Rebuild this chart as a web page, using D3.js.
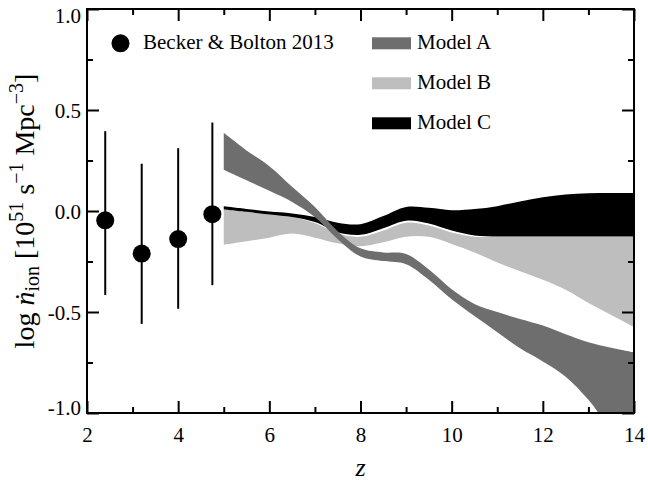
<!DOCTYPE html>
<html>
<head>
<meta charset="utf-8">
<script src="https://cdn.jsdelivr.net/npm/d3@7"></script>
<style>
  body { margin: 0; background: #fff; }
  svg text { font-family: "Liberation Serif", "Times New Roman", serif; fill: #000; }
</style>
</head>
<body>
<svg id="chart" width="648" height="483"></svg>
<script>
// redshift grid of the model bands
var zGrid = [5, 5.5, 6, 6.5, 7, 7.5, 8, 8.5, 9, 9.5, 10, 10.5, 11, 11.5, 12, 12.5, 13, 13.5, 14];

var modelAHigh = [0.387, 0.30, 0.222, 0.12, 0.02, -0.10, -0.185, -0.205, -0.213, -0.29, -0.387, -0.46, -0.50, -0.535, -0.567, -0.61, -0.65, -0.677, -0.70];
var modelALow  = [0.204, 0.152, 0.10, 0.045, -0.03, -0.14, -0.225, -0.248, -0.263, -0.34, -0.437, -0.52, -0.60, -0.68, -0.745, -0.82, -0.935, -1.09, -1.25];

var modelBHigh = [0.008, -0.004, -0.017, -0.03, -0.06, -0.112, -0.128, -0.097, -0.058, -0.072, -0.106, -0.127, -0.127, -0.127, -0.127, -0.127, -0.127, -0.127, -0.127];
var modelBLow  = [-0.167, -0.15, -0.132, -0.112, -0.132, -0.16, -0.175, -0.155, -0.127, -0.128, -0.163, -0.205, -0.255, -0.298, -0.34, -0.39, -0.455, -0.515, -0.575];

var modelCHigh = [0.023, 0.01, -0.003, -0.012, -0.03, -0.058, -0.065, -0.025, 0.02, 0.016, 0.004, 0.01, 0.024, 0.047, 0.068, 0.082, 0.088, 0.089, 0.089];
var modelCLow  = [0.008, -0.004, -0.017, -0.03, -0.055, -0.105, -0.118, -0.085, -0.048, -0.062, -0.097, -0.121, -0.126, -0.126, -0.126, -0.126, -0.126, -0.126, -0.126];

// Becker & Bolton 2013
var bbZ   = [2.4, 3.2, 4.0, 4.75];
var bbVal = [-0.046, -0.211, -0.139, -0.016];
var bbHi  = [0.395, 0.234, 0.311, 0.438];
var bbLo  = [-0.416, -0.559, -0.484, -0.367];

var xMajor = [2, 4, 6, 8, 10, 12, 14];
var xMinor = [3, 5, 7, 9, 11, 13];
var yMajor = [-1.0, -0.5, 0.0, 0.5, 1.0];
var yMinor = [-0.75, -0.25, 0.25, 0.75];

var models = [
  {name: "Model B", hi: modelBHigh, lo: modelBLow, color: "#bebebe"},
  {name: "Model C", hi: modelCHigh, lo: modelCLow, color: "#000000"},
  {name: "Model A", hi: modelAHigh, lo: modelALow, color: "#6e6e6e"}
];
var legendOrder = ["Model A", "Model B", "Model C"];

var serif = "'Liberation Serif', 'Times New Roman', serif";

var margin = {top: 9, right: 14, bottom: 70, left: 87},
    width = 648 - margin.left - margin.right,
    height = 483 - margin.top - margin.bottom;

var svg = d3.select("#chart");
var g = svg.append("g").attr("transform", "translate(" + margin.left + "," + margin.top + ")");

var x = d3.scaleLinear().domain([2, 14]).range([0, width]);
var y = d3.scaleLinear().domain([-1, 1]).range([height, 0]);

g.append("clipPath").attr("id", "plotclip")
  .append("rect").attr("width", width).attr("height", height);

// bands
var area = d3.area()
  .x(function(d) { return x(d.z); })
  .y0(function(d) { return y(d.lo); })
  .y1(function(d) { return y(d.hi); })
  .curve(d3.curveCatmullRom.alpha(0.5));

g.append("g").attr("clip-path", "url(#plotclip)")
  .selectAll("path").data(models)
  .enter().append("path")
  .attr("fill", function(d) { return d.color; })
  .attr("d", function(m) {
    return area(zGrid.map(function(z, i) { return {z: z, hi: m.hi[i], lo: m.lo[i]}; }));
  });

// data points
var pts = bbZ.map(function(z, i) { return {z: z, v: bbVal[i], hi: bbHi[i], lo: bbLo[i]}; });
g.selectAll(".ebar").data(pts).enter().append("line")
  .attr("class", "ebar")
  .attr("x1", function(d) { return x(d.z); })
  .attr("x2", function(d) { return x(d.z); })
  .attr("y1", function(d) { return y(d.hi); })
  .attr("y2", function(d) { return y(d.lo); })
  .attr("stroke", "#000").attr("stroke-width", 2);
g.selectAll(".dot").data(pts).enter().append("circle")
  .attr("class", "dot")
  .attr("cx", function(d) { return x(d.z); })
  .attr("cy", function(d) { return y(d.v); })
  .attr("r", 9).attr("fill", "#000");

// axes, ticks inward on all sides
function styleAxis(sel) {
  sel.attr("font-family", serif).attr("font-size", 21);
  sel.select(".domain").remove();
  sel.selectAll(".tick line").attr("stroke", "#000").attr("stroke-width", 2);
  sel.selectAll(".tick text").attr("font-family", serif).attr("font-size", 21)
    .style("font-family", serif).style("font-size", "21px");
}

var fmt = function(d) { return d.toFixed(1); };

g.append("g").attr("transform", "translate(0," + height + ")")
  .call(d3.axisBottom(x).tickValues(xMajor).tickSizeInner(-12).tickSizeOuter(0).tickPadding(14).tickFormat(d3.format("d")))
  .call(styleAxis);
g.append("g").attr("transform", "translate(0," + height + ")")
  .call(d3.axisBottom(x).tickValues(xMinor).tickSizeInner(-6).tickSizeOuter(0).tickFormat(""))
  .call(styleAxis);
g.append("g")
  .call(d3.axisTop(x).tickValues(xMajor).tickSizeInner(-12).tickSizeOuter(0).tickFormat(""))
  .call(styleAxis);
g.append("g")
  .call(d3.axisTop(x).tickValues(xMinor).tickSizeInner(-6).tickSizeOuter(0).tickFormat(""))
  .call(styleAxis);

var yAx = g.append("g")
  .call(d3.axisLeft(y).tickValues(yMajor).tickSizeInner(-12).tickSizeOuter(0).tickPadding(6).tickFormat(fmt))
  .call(styleAxis);
// keep the end labels inside the frame height
yAx.selectAll(".tick text").attr("dy", function(d) {
  if (d === 1) return "0.62em";
  if (d === -1) return "0.08em";
  return "0.34em";
});
g.append("g")
  .call(d3.axisLeft(y).tickValues(yMinor).tickSizeInner(-6).tickSizeOuter(0).tickFormat(""))
  .call(styleAxis);
g.append("g").attr("transform", "translate(" + width + ",0)")
  .call(d3.axisRight(y).tickValues(yMajor).tickSizeInner(-12).tickSizeOuter(0).tickFormat(""))
  .call(styleAxis);
g.append("g").attr("transform", "translate(" + width + ",0)")
  .call(d3.axisRight(y).tickValues(yMinor).tickSizeInner(-6).tickSizeOuter(0).tickFormat(""))
  .call(styleAxis);

g.append("rect").attr("width", width).attr("height", height)
  .attr("fill", "none").attr("stroke", "#000").attr("stroke-width", 2);

// axis titles
g.append("text")
  .attr("x", x(8)).attr("y", height + 63)
  .attr("text-anchor", "middle")
  .style("font-size", "26px").style("font-style", "italic")
  .text("z");

var yt = svg.append("text")
  .attr("transform", "translate(34," + (margin.top + height / 2) + ") rotate(-90)")
  .attr("text-anchor", "middle")
  .style("font-size", "28px");
yt.append("tspan").text("log ");
yt.append("tspan").style("font-style", "italic").text("\u1E45");
yt.append("tspan").attr("dy", 5).style("font-size", "20px").text("ion");
yt.append("tspan").attr("dy", -5).text(" [10");
yt.append("tspan").attr("dy", -11).style("font-size", "20px").text("51");
yt.append("tspan").attr("dy", 11).text(" s");
yt.append("tspan").attr("dy", -11).style("font-size", "20px").text("\u22121");
yt.append("tspan").attr("dy", 11).text(" Mpc");
yt.append("tspan").attr("dy", -11).style("font-size", "20px").text("\u22123");
yt.append("tspan").attr("dy", 11).text("]");

// legend
var leg = g.append("g");
leg.append("circle").attr("cx", 33.5).attr("cy", 34.3).attr("r", 9).attr("fill", "#000");
leg.append("text").attr("x", 56).attr("y", 39.5).style("font-size", "21px").text("Becker & Bolton 2013");

var legItems = leg.selectAll(".legm").data(legendOrder).enter().append("g")
  .attr("class", "legm")
  .attr("transform", function(d, i) { return "translate(285," + (28.3 + i * 40) + ")"; });
legItems.append("rect").attr("width", 39).attr("height", 12)
  .attr("fill", function(d) { return models.find(function(m) { return m.name === d; }).color; });
legItems.append("text").attr("x", 45).attr("y", 12).style("font-size", "21px")
  .text(function(d) { return d; });
</script>
</body>
</html>
